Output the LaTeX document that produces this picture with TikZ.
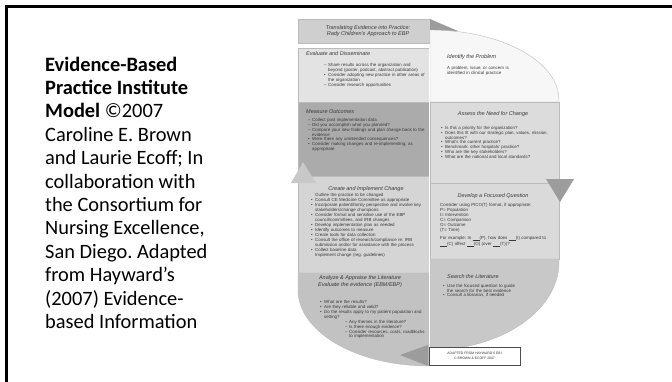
\documentclass[tikz,border=0pt]{standalone}
\usepackage{fontspec}
\setmainfont{Carlito}
\newfontfamily\figfont{Liberation Sans}
\frenchspacing
\hyphenpenalty=10000
\definecolor{cBanner}{HTML}{CFCFCF}
\definecolor{cEval}{HTML}{E3E3E3}
\definecolor{cMeas}{HTML}{ABABAB}
\definecolor{cCreate}{HTML}{D5D5D5}
\definecolor{cAnal}{HTML}{C2C2C2}
\definecolor{cIdent}{HTML}{F7F7F7}
\definecolor{cAssess}{HTML}{DCDCDC}
\definecolor{cDevelop}{HTML}{DADADA}
\definecolor{cSearch}{HTML}{C8C8C8}
\definecolor{cArrow}{HTML}{9C9C9C}
\definecolor{cEdge}{HTML}{BBBBBB}
\definecolor{cFigText}{HTML}{383838}
\newcommand\bitem[2]{\par\noindent\makebox[4pt][l]{#1}\parbox[t]{\dimexpr\hsize-4pt\relax}{\raggedright #2}}
\newcommand\sitem[2]{\par\noindent\hspace*{25pt}\makebox[4pt][l]{#1}\parbox[t]{\dimexpr\hsize-29pt\relax}{\raggedright #2}}
\newcommand\blank{\underline{\hspace{7pt}}}
\tikzset{
  slidetext/.style={font=\fontsize{20.4}{23.4}\selectfont, inner sep=0, anchor=base west},
  fighead/.style={font=\figfont\itshape\fontsize{5.5}{6.2}\selectfont, text=cFigText, inner sep=0},
  figbody/.style={font=\figfont\fontsize{4.4}{4.95}\selectfont, text=cFigText, inner sep=0, align=left, anchor=north west},
  boxedge/.style={draw=cEdge, line width=0.4pt}
}
\begin{document}
\begin{tikzpicture}[x=1pt,y=-1pt]
\useasboundingbox (0,0) rectangle (672,381);
\clip (0,0) rectangle (672,381);
\fill[white] (0,0) rectangle (672,381);
% slide frame
\draw[line width=2.8pt] (6.5,400) -- (6.5,6.5) -- (690,6.5);
% left caption
\node[slidetext] (l1) at (45,71) {\textbf{Evidence-Based}};
\node[slidetext] (l2) at (45,94.4) {\textbf{Practice Institute}};
\node[slidetext] (l3) at (45,117.8) {\textbf{Model} ©2007};
\node[slidetext] (l4) at (45,141.2) {Caroline E. Brown};
\node[slidetext] (l5) at (45,164.6) {and Laurie Ecoff; In};
\node[slidetext] (l6) at (45,188) {collaboration with};
\node[slidetext] (l7) at (45,211.4) {the Consortium for};
\node[slidetext] (l8) at (45,234.8) {Nursing Excellence,};
\node[slidetext] (l9) at (45,258.2) {San Diego. Adapted};
\node[slidetext] (l10) at (45,281.6) {from Hayward’s};
\node[slidetext] (l11) at (45,305) {(2007) Evidence-};
\node[slidetext] (l12) at (45,328.4) {based Information};

% ---------- embedded model figure ----------
% banner
\fill[cBanner, boxedge] (298,19) rectangle (430,43);
\fill[cArrow] (430,19) -- (458,31) -- (430,43) -- cycle;
\node[fighead, align=center] (banner) at (368,31) {Translating Evidence into Practice:\\Rady Children’s Approach to EBP};
% left column
\fill[cEval, boxedge] (298,48) rectangle (429,102);
\fill[cMeas, boxedge] (298,102) rectangle (429,176);
\fill[cCreate, boxedge] (298,176) rectangle (429,273);
\fill[cAnal, boxedge] (298,273) -- (298,290) .. controls (298,332) and (356.6,366) .. (429,366) -- (429,273) -- cycle;
% right column
\fill[cIdent, boxedge] (430,102) -- (430,30) .. controls (501.2,30) and (559,61.3) .. (559,100) -- (559,102) -- cycle;
\fill[cAssess, boxedge] (430,102) rectangle (559,183);
\fill[cDevelop, boxedge] (430,183) rectangle (559,259);
\fill[cSearch, boxedge] (430,259) -- (559,259) -- (559,262) .. controls (559,310.6) and (501.2,350) .. (430,350) -- cycle;
% column divider
\draw[white, line width=1pt] (429.5,48) -- (429.5,366);
% arrows
\fill[cArrow] (546,179) -- (574,179) -- (560,202) -- cycle;
\fill[cAnal!90!white] (291,183) -- (316,183) -- (303,162) -- cycle;
\fill[cArrow] (400,355) -- (428,345) -- (428,366) -- cycle;

% Evaluate and Disseminate
\node[fighead, anchor=base west] (evh) at (306,55) {Evaluate and Disseminate};
\node[figbody, text width=101pt] (evb) at (324,61) {%
\bitem{–}{Share results across the organization and beyond (poster, podcast, abstract publication)}
\bitem{•}{Consider adopting new practice in other areas of the organization}
\bitem{–}{Consider research opportunities}};

% Measure Outcomes
\node[fighead, anchor=base west] (meh) at (306,113) {Measure Outcomes};
\node[figbody, text width=118pt] (meb) at (308,116) {%
\bitem{–}{Collect post implementation data}
\bitem{–}{Did you accomplish what you planned?}
\bitem{–}{Compare your new findings and plan change back to the evidence}
\bitem{•}{Were there any unintended consequences?}
\bitem{•}{Consider making changes and re-implementing, as appropriate}};

% Create and Implement Change
\node[fighead, anchor=base] (crh) at (366,190) {Create and Implement Change};
\node[figbody, text width=117pt] (crb) at (311,193) {%
\hspace*{4pt}Outline the practice to be changed
\bitem{•}{Consult CE Medicine Committee as appropriate}
\bitem{•}{Incorporate patient/family perspective and involve key stakeholders/change champions}
\bitem{•}{Consider formal and sensitive use of the EBP council/committees, and IRB changes}
\bitem{•}{Develop implementation plan as needed}
\bitem{•}{Identify outcomes to measure}
\bitem{•}{Create tools for data collection}
\bitem{•}{Consult the office of research/compliance re: IRB submission and/or for assistance with the process}
\bitem{•}{Collect baseline data}
\par\noindent\hspace*{4pt}Implement change (reg. guidelines)};

% Analyze & Appraise the Literature
\node[fighead, anchor=base, align=center] (anh) at (360,286) {Analyze \& Appraise the Literature\\Evaluate the evidence (EBM/EBP)};
\node[figbody, text width=108pt] (anb) at (320,298) {%
\bitem{•}{What are the results?}
\bitem{•}{Are they reliable and valid?}
\bitem{•}{Do the results apply to my patient population and setting?}
\sitem{–}{Any themes in the literature?}
\sitem{–}{Is there enough evidence?}
\sitem{–}{Consider resources, costs, roadblocks to implementation}};

% Identify the Problem
\node[fighead, anchor=base west] (idh) at (447,58) {Identify the Problem};
\node[figbody, text width=80pt] (idb) at (447,66) {A problem, issue, or concern is identified in clinical practice};

% Assess the Need for Change
\node[fighead, anchor=base] (ash) at (493,115) {Assess the Need for Change};
\node[figbody, text width=113pt] (asb) at (441,124) {%
\bitem{•}{Is this a priority for the organization?}
\bitem{•}{Does this fit with our strategic plan, values, mission, outcomes?}
\bitem{•}{What’s the current practice?}
\bitem{•}{Benchmark: other hospitals’ practice?}
\bitem{•}{Who are the key stakeholders?}
\bitem{•}{What are the national and local standards?}};

% Develop a Focused Question
\node[fighead, anchor=base] (dvh) at (493,197) {Develop a Focused Question};
\node[figbody, text width=116pt] (dvb) at (440,203) {%
Consider using PICO(T) format, if appropriate:\\
P= Population\\
I= Intervention\\
C= Comparison\\
O= Outcome\\
(T= Time)\\[3pt]
For example: In \blank(P), how does \blank(I) compared to \blank(C) affect \blank(O) (over \blank(T))?};

% Search the Literature
\node[fighead, anchor=base west] (seh) at (447,278) {Search the Literature};
\node[figbody, text width=75pt] (seb) at (443,282) {%
\bitem{•}{Use the focused question to guide the search for the best evidence}
\bitem{•}{Consult a librarian, if needed}};

% credit box
\node[draw=black!70, line width=0.8pt, fill=white, minimum width=91pt, minimum height=18pt, inner sep=0, align=center,
      font=\figfont\fontsize{3.4}{5}\selectfont, text=cFigText] (credit) at (474.5,356) {ADAPTED FROM HAYWARD’S EBI\\© BROWN \& ECOFF 2007};
\end{tikzpicture}
\end{document}
